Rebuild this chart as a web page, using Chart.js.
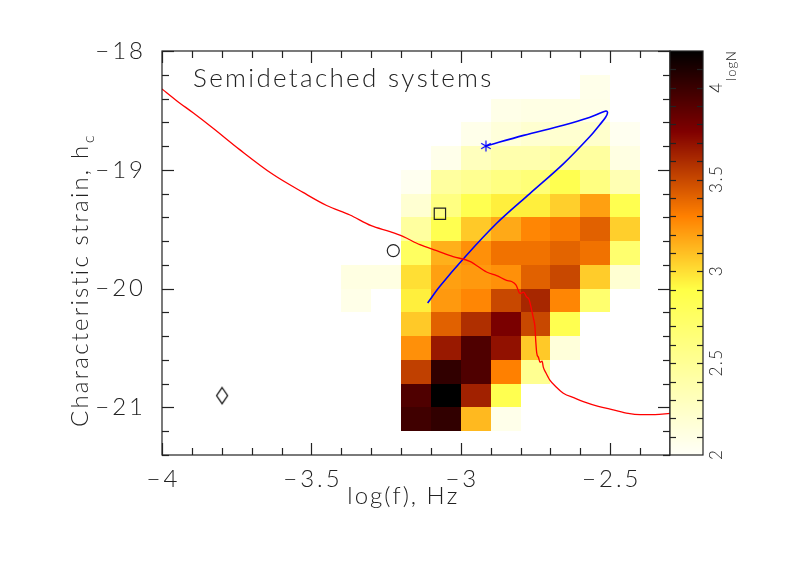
<!DOCTYPE html>
<html><head><meta charset="utf-8">
<script src="https://cdn.jsdelivr.net/npm/chart.js@4.4.1/dist/chart.umd.min.js"></script>
<style>html,body{margin:0;padding:0;background:#fff;}#wrap{width:809px;height:571px;}</style>
</head><body><div id="wrap"><canvas id="c" width="809" height="571"></canvas></div>
<script>
// ---- data ----
const xTicks = [-4, -3.5, -3, -2.5];
const yTicks = [-18, -19, -20, -21];
const cbTicks = [2, 2.5, 3, 3.5, 4];
const cellLeft = [-3.4, -3.3, -3.2, -3.1, -3.0, -2.9, -2.8, -2.7, -2.6, -2.5];
const rowBottom = [-18.4, -18.6, -18.8, -19.0, -19.2, -19.4, -19.6, -19.8, -20.0, -20.2, -20.4, -20.6, -20.8, -21.0, -21.2];
const cellW = 0.1, cellH = 0.2;
const n = null;
const logN = [
  [n, n, n, n, n, n, n, n, 2.07, n],
  [n, n, n, n, n, 2.08, 2.10, 2.10, 2.08, n],
  [n, n, n, n, 2.07, 2.15, 2.20, 2.20, 2.22, 2.04],
  [n, n, n, 2.07, 2.30, 2.38, 2.38, 2.45, 2.45, 2.11],
  [n, n, 2.04, 2.45, 2.52, 2.60, 2.65, 2.85, 2.60, 2.35],
  [n, n, 2.19, 2.60, 2.85, 2.95, 2.95, 3.05, 3.20, 2.85],
  [n, n, 2.45, 2.85, 3.07, 3.17, 3.28, 3.32, 3.41, 3.05],
  [n, n, 2.77, 3.15, 3.25, 3.35, 3.35, 3.40, 3.35, 2.70],
  [2.11, 2.11, 3.00, 3.20, 3.22, 3.25, 3.41, 3.50, 3.06, 2.19],
  [2.08, n, 2.95, 3.22, 3.28, 3.50, 3.62, 3.28, 2.70, n],
  [n, n, 3.07, 3.41, 3.59, 3.78, 3.50, 2.85, n, n],
  [n, n, 3.25, 3.67, 3.93, 3.70, 3.07, 2.15, n, n],
  [n, n, 3.53, 4.03, 3.93, 3.30, 2.52, n, n, n],
  [n, n, 3.93, 4.20, 3.64, 2.85, n, n, n, n],
  [n, n, 3.98, 4.03, 3.12, 2.07, n, n, n, n]
];
const redX = [-4.0, -3.95, -3.896, -3.829, -3.74, -3.628, -3.528, -3.449, -3.371, -3.30, -3.237, -3.194, -3.137, -3.081, -3.026, -2.97, -2.914, -2.88, -2.847, -2.83, -2.815, -2.802, -2.79, -2.78, -2.772, -2.763, -2.757, -2.752, -2.749, -2.746, -2.74, -2.735, -2.728, -2.724, -2.715, -2.702, -2.68, -2.657, -2.62, -2.59, -2.54, -2.49, -2.44, -2.40, -2.35, -2.30];
const redY = [-18.32, -18.42, -18.52, -18.65, -18.83, -19.04, -19.19, -19.30, -19.38, -19.47, -19.52, -19.56, -19.63, -19.68, -19.73, -19.77, -19.86, -19.89, -19.93, -19.94, -19.97, -20.04, -20.03, -20.07, -20.09, -20.18, -20.25, -20.32, -20.45, -20.54, -20.58, -20.62, -20.61, -20.66, -20.71, -20.77, -20.83, -20.88, -20.92, -20.95, -20.99, -21.02, -21.05, -21.06, -21.06, -21.05];
const blueX = [-2.916, -2.79, -2.657, -2.57, -2.514, -2.509, -2.516, -2.535, -2.568, -2.657, -2.769, -2.880, -2.992, -3.070, -3.111];
const blueY = [-18.80, -18.71, -18.625, -18.56, -18.505, -18.52, -18.56, -18.62, -18.72, -18.95, -19.20, -19.45, -19.75, -19.98, -20.12];
const starPt = [-2.916, -18.80];
const squarePt = [-3.070, -19.37];
const circlePt = [-3.226, -19.68];
const diamondPt = [-3.799, -20.90];
const cbMin = 2, cbMax = 4.2;

// ---- style helpers ----
const FONT = 'Lato, "DejaVu Sans", sans-serif';
const INK = '#222';
const stops = [[2.0,[255,255,248]],[2.9,[255,255,70]],[3.3,[255,128,0]],[3.76,[128,0,0]],[4.2,[0,0,0]]];
function cmap(v){
  if (v <= stops[0][0]) return `rgb(${stops[0][1].join(',')})`;
  for (let i=1;i<stops.length;i++){
    if (v <= stops[i][0]){
      const [v0,c0]=stops[i-1],[v1,c1]=stops[i]; const t=(v-v0)/(v1-v0);
      return `rgb(${c0.map((c,k)=>Math.round(c+(c1[k]-c)*t)).join(',')})`;
    }
  }
  return 'rgb(0,0,0)';
}
function mkCanvas(w,h,draw){const c=document.createElement('canvas');c.width=w;c.height=h;draw(c.getContext('2d'));return c;}
const starImg = mkCanvas(14,14,g=>{g.strokeStyle='#0000ff';g.lineWidth=1.2;g.beginPath();
  const cx=7,cy=7,r=5.5;
  for(const a of [90,30,150]){const t=a*Math.PI/180;g.moveTo(cx-r*Math.cos(t),cy-r*Math.sin(t));g.lineTo(cx+r*Math.cos(t),cy+r*Math.sin(t));}
  g.stroke();});
const diamondImg = mkCanvas(14,20,g=>{g.strokeStyle='#111';g.lineWidth=1.3;g.beginPath();
  g.moveTo(7,2);g.lineTo(12.5,10);g.lineTo(7,18);g.lineTo(1.5,10);g.closePath();g.stroke();});

function spacedText(ctx,s,x,y,size,align,spacing,weight){
  ctx.font = `${weight||300} ${size}px ${FONT}`;
  ctx.letterSpacing = '0px';
  const w0 = ctx.measureText(s).width;
  const w = w0 + spacing*(s.length-1);
  let x0 = align==='center' ? x - w/2 : align==='right' ? x - w : x;
  ctx.textAlign='left';
  for (const ch of s){ ctx.fillText(ch,x0,y); x0 += ctx.measureText(ch).width + spacing; }
  return w;
}

const heatPlugin = {id:'heat', beforeDatasetsDraw(chart){
  const {ctx, chartArea:a, scales:{x,y}} = chart;
  ctx.save(); ctx.beginPath(); ctx.rect(a.left,a.top,a.width,a.height); ctx.clip();
  logN.forEach((row,i)=>row.forEach((v,j)=>{
    if (v==null) return;
    const x0=Math.round(x.getPixelForValue(cellLeft[j])), x1=Math.round(x.getPixelForValue(cellLeft[j]+cellW));
    const yb=Math.round(y.getPixelForValue(rowBottom[i])), yt=Math.round(y.getPixelForValue(rowBottom[i]+cellH));
    ctx.fillStyle=cmap(v); ctx.fillRect(x0,yt,x1-x0,yb-yt);
  }));
  ctx.restore();
}};

const framePlugin = {id:'frame', afterDraw(chart){
  const {ctx, chartArea:a, scales:{x,y}} = chart;
  ctx.save();
  ctx.strokeStyle=INK; ctx.lineWidth=1.2;
  ctx.strokeRect(a.left,a.top,a.width,a.height);
  const seg=(x0,y0,x1,y1)=>{ctx.beginPath();ctx.moveTo(x0,y0);ctx.lineTo(x1,y1);ctx.stroke();};
  for (let k=0;k<=17;k++){
    const v=-4+k*0.1; const px=Math.round(x.getPixelForValue(v))+0.5; const L=(k%5===0)?12:7;
    seg(px,a.bottom,px,a.bottom-L); seg(px,a.top,px,a.top+L);
  }
  for (let k=0;k<=17;k++){
    const v=-21.4+k*0.2; const py=Math.round(y.getPixelForValue(v))+0.5;
    const L=(Math.abs(v-Math.round(v))<1e-6)?12:7;
    seg(a.left,py,a.left+L,py); seg(a.right,py,a.right-L,py);
  }
  // tick labels
  ctx.fillStyle=INK; ctx.textBaseline='middle';
  xTicks.forEach(v=>spacedText(ctx,('\u2212'+Math.abs(v)),x.getPixelForValue(v),479,24,'center',3));
  yTicks.forEach(v=>spacedText(ctx,('\u2212'+Math.abs(v)),143,y.getPixelForValue(v),24,'right',3));
  // titles
  ctx.textBaseline='alphabetic';
  spacedText(ctx,'log(f), Hz',402,504,24,'center',2);
  spacedText(ctx,'Semidetached systems',193,87,26,'left',2.3);
  ctx.save(); ctx.translate(88,427); ctx.rotate(-Math.PI/2);
  const w = spacedText(ctx,'Characteristic strain, h',0,0,24,'left',2.2);
  spacedText(ctx,'c',w+3,6,16,'left',0);
  ctx.restore();
  // colorbar
  const cx0=a.right, cx1=703, cy=v=>a.bottom-(v-cbMin)/(cbMax-cbMin)*(a.bottom-a.top);
  for (let py=a.top; py<a.bottom; py++){
    const v = cbMin + (a.bottom-(py+0.5))/(a.bottom-a.top)*(cbMax-cbMin);
    ctx.fillStyle=cmap(v); ctx.fillRect(cx0,py,cx1-cx0,1);
  }
  ctx.strokeRect(cx0,a.top,cx1-cx0,a.bottom-a.top);
  for (let k=1;k<22;k++){
    const v=cbMin+k*0.1; const py=Math.round(cy(v))+0.5;
    seg(cx0,py,cx0+6,py); seg(cx1,py,cx1-6,py);
  }
  ctx.fillStyle=INK; ctx.textBaseline='middle';
  cbTicks.forEach(v=>{ctx.save();ctx.translate(717,cy(v));ctx.rotate(-Math.PI/2);spacedText(ctx,String(v),0,0,17,'center',1.5);ctx.restore();});
  ctx.save();ctx.translate(732,66);ctx.rotate(-Math.PI/2);spacedText(ctx,'logN',0,0,13,'center',1);ctx.restore();
  ctx.restore();
}};

const toPts=(xs,ys)=>xs.map((v,i)=>({x:v,y:ys[i]}));
new Chart(document.getElementById('c'), {
  type:'scatter',
  data:{datasets:[
    {data:toPts(redX,redY), showLine:true, borderColor:'#ff0000', borderWidth:1.3, pointRadius:0, cubicInterpolationMode:'monotone'},
    {data:toPts(blueX,blueY), showLine:true, borderColor:'#0000ff', borderWidth:1.6, pointRadius:0, tension:0.35},
    {data:[{x:starPt[0],y:starPt[1]}], pointStyle:starImg, pointRadius:7},
    {data:[{x:squarePt[0],y:squarePt[1]}], pointStyle:'rect', pointRadius:8, borderColor:'#222', borderWidth:1.2, backgroundColor:'rgba(0,0,0,0)'},
    {data:[{x:circlePt[0],y:circlePt[1]}], pointStyle:'circle', pointRadius:6, borderColor:'#222', borderWidth:1.2, backgroundColor:'rgba(0,0,0,0)'},
    {data:[{x:diamondPt[0],y:diamondPt[1]}], pointStyle:diamondImg, pointRadius:8}
  ]},
  options:{
    responsive:false, animation:false, devicePixelRatio:1,
    layout:{padding:{left:162, right:139, top:51, bottom:116}},
    scales:{
      x:{type:'linear', min:-4, max:-2.3, display:false},
      y:{type:'linear', min:-21.4, max:-18, display:false}
    },
    plugins:{legend:{display:false}, tooltip:{enabled:false}},
    elements:{point:{hoverRadius:0}}
  },
  plugins:[heatPlugin, framePlugin]
});
</script></body></html>
